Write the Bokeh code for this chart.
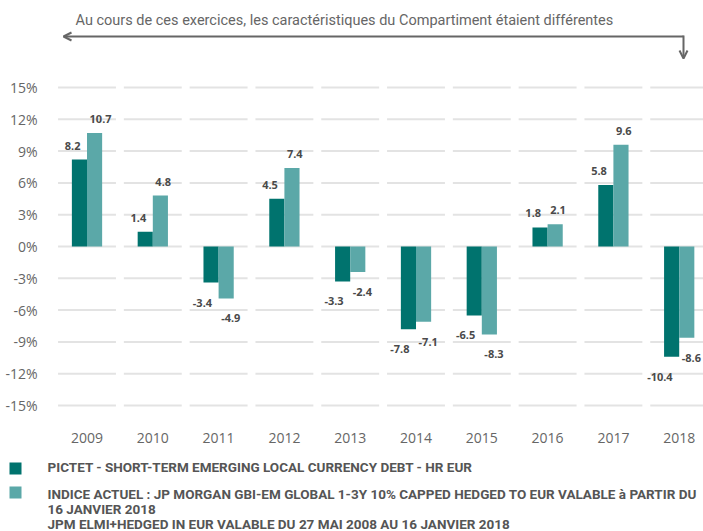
from bokeh.plotting import figure
from bokeh.layouts import column
from bokeh.models import (Range1d, FixedTicker, PrintfTickFormatter, Label, Arrow,
                          OpenHead, ColumnDataSource)
from bokeh.embed import file_html
from bokeh.resources import INLINE

years = ["2009", "2010", "2011", "2012", "2013", "2014", "2015", "2016", "2017", "2018"]
fund = [8.2, 1.4, -3.4, 4.5, -3.3, -7.8, -6.5, 1.8, 5.8, -10.4]
index = [10.7, 4.8, -4.9, 7.4, -2.4, -7.1, -8.3, 2.1, 9.6, -8.6]
y_ticks = [-15, -12, -9, -6, -3, 0, 3, 6, 9, 12, 15]

fund_name = "PICTET - SHORT-TERM EMERGING LOCAL CURRENCY DEBT - HR EUR"
index_lines = ["INDICE ACTUEL : JP MORGAN GBI-EM GLOBAL 1-3Y 10% CAPPED HEDGED TO EUR VALABLE à PARTIR DU",
               "16 JANVIER 2018",
               "JPM ELMI+HEDGED IN EUR VALABLE DU 27 MAI 2008 AU 16 JANVIER 2018"]
note = "Au cours de ces exercices, les caractéristiques du Compartiment étaient différentes"

DARK = "#00736e"
LIGHT = "#5ba8a8"
GREY = "#666666"
COND = "Roboto"
W = 703

# ---------- header (window coordinates) ----------
head = figure(width=W, height=70, output_backend="svg", toolbar_location=None,
              x_range=Range1d(0, W), y_range=Range1d(70, 0),
              min_border=0, x_axis_type=None, y_axis_type=None)
head.frame_align = False
head.outline_line_color = None
head.grid.visible = False
head.add_layout(Label(x=75, y=20, text=note, text_baseline="middle",
                      text_font=COND, text_font_size="14.5px", text_color=GREY))
head.add_layout(Arrow(x_start=683, y_start=36, x_end=63, y_end=36,
                      line_color=GREY, line_width=2,
                      end=OpenHead(size=8, line_color=GREY, line_width=2)))
head.add_layout(Arrow(x_start=683, y_start=35, x_end=683, y_end=58,
                      line_color=GREY, line_width=2,
                      end=OpenHead(size=8, line_color=GREY, line_width=2)))

# ---------- main chart ----------
X0 = -0.494          # frame left at x 54, 65.8 px per category
def px2x(px):
    return X0 + (px - 54) / 65.8
def py2y(py):        # 0% at y 246, 10.6 px per %
    return (246 - py) / 10.6

p = figure(width=W, height=380, output_backend="svg", toolbar_location=None,
           x_range=Range1d(X0, px2x(W)), y_range=Range1d(py2y(420), py2y(70)),
           min_border_left=54, min_border_right=0, min_border_top=0, min_border_bottom=30)
p.frame_align = False
p.outline_line_color = None
p.xgrid.visible = False
p.ygrid.visible = False

xs = list(range(len(years)))

gx0, gx1, gy = [], [], []
for i in xs:
    for t in y_ticks:
        gx0.append(i - 0.44)
        gx1.append(i + 0.44)
        gy.append(t)
p.segment(x0=gx0, x1=gx1, y0=gy, y1=gy, line_color="#e3e3e3", line_width=2)

src = ColumnDataSource(dict(xd=[i - 0.115 for i in xs], xl=[i + 0.115 for i in xs],
                            fund=fund, index=index))
p.vbar(x="xd", top="fund", bottom=0, width=0.23, fill_color=DARK, line_color=None, source=src)
p.vbar(x="xl", top="index", bottom=0, width=0.23, fill_color=LIGHT, line_color=None, source=src)

for i in xs:
    for v, x, align, xoff in ((fund[i], i - 0.115, "right", 1), (index[i], i + 0.115, "left", -5)):
        p.add_layout(Label(x=x, y=v, text=f"{v:.1f}", text_align=align, text_baseline="middle",
                           x_offset=xoff, y_offset=(14 if v >= 0 else -20),
                           text_font="Noto Sans", text_font_style="bold",
                           text_font_size="11px", text_color="#4a4a4a"))

p.yaxis.ticker = FixedTicker(ticks=y_ticks)
p.yaxis.formatter = PrintfTickFormatter(format="%d%%")
p.xaxis.ticker = FixedTicker(ticks=xs)
p.xaxis.major_label_overrides = {i: y for i, y in enumerate(years)}
for ax in (p.xaxis, p.yaxis):
    ax.axis_line_color = None
    ax.major_tick_line_color = None
    ax.minor_tick_line_color = None
    ax.major_label_text_font = "Open Sans"
    ax.major_label_text_font_size = "14px"
    ax.major_label_text_color = GREY
p.yaxis.major_label_standoff = 11
p.xaxis.major_label_standoff = 6

# ---------- footer legend (window coordinates) ----------
foot = figure(width=W, height=81, output_backend="svg", toolbar_location=None,
              x_range=Range1d(0, W), y_range=Range1d(531, 450),
              min_border=0, x_axis_type=None, y_axis_type=None)
foot.frame_align = False
foot.outline_line_color = None
foot.grid.visible = False
foot.rect(x=[15, 15], y=[468, 492], width=12, height=12, fill_color=[DARK, LIGHT], line_color=None)
for txt, yy in ((fund_name, 466), (index_lines[0], 493), (index_lines[1], 508), (index_lines[2], 523)):
    foot.add_layout(Label(x=47, y=yy, text=txt, text_baseline="middle",
                          text_font=COND, text_font_style="bold",
                          text_font_size="13.5px", text_color="#555555"))

layout = column(head, p, foot)
open("out.html", "w").write(file_html(layout, INLINE))
